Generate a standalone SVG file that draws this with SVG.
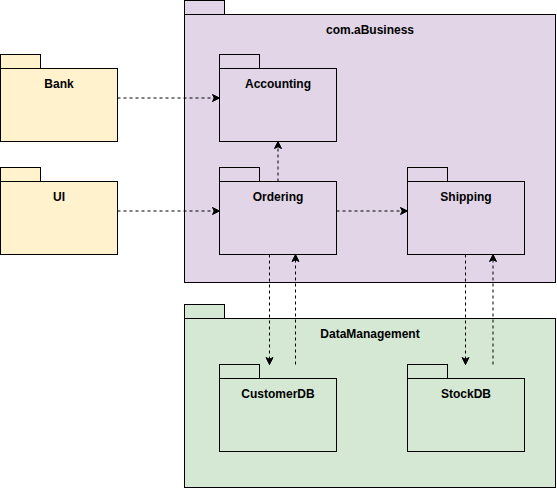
<svg xmlns="http://www.w3.org/2000/svg" width="557" height="488" viewBox="0 0 557 488">
<style>
  .pkg { stroke: #000; stroke-width: 1; }
  .yellow { fill: #fff2cc; }
  .purple { fill: #e1d5e7; }
  .green { fill: #d5e8d4; }
  .lbl { font-family: "Liberation Sans", Arial, Helvetica, sans-serif; font-size: 12px; font-weight: bold; fill: #000; text-anchor: middle; }
  .dep { fill: none; stroke: #000; stroke-width: 1; stroke-dasharray: 3 3; marker-end: url(#arrow); }
</style>
<defs>
  <marker id="arrow" markerUnits="userSpaceOnUse" markerWidth="8" markerHeight="8" refX="7" refY="4" orient="auto" overflow="visible">
    <path d="M0,0.5 L7,4 L0,7.5 L1.75,4 Z" fill="#000" stroke="#000" stroke-width="1" stroke-linejoin="miter"/>
  </marker>
</defs>
<rect width="557" height="488" fill="#fff"/>

<g id="com.aBusiness">
  <rect class="pkg purple" x="184.5" y="0.5" width="40" height="14"/>
  <rect class="pkg purple" x="184.5" y="14.5" width="371" height="268"/>
  <text class="lbl" x="370" y="34">com.aBusiness</text>
</g>
<g id="DataManagement">
  <rect class="pkg green" x="184.5" y="304.5" width="40" height="14"/>
  <rect class="pkg green" x="184.5" y="318.5" width="371" height="169"/>
  <text class="lbl" x="370" y="338">DataManagement</text>
</g>
<g id="Bank">
  <rect class="pkg yellow" x="0.5" y="54.5" width="40" height="14"/>
  <rect class="pkg yellow" x="0.5" y="68.5" width="117" height="73"/>
  <text class="lbl" x="59" y="88">Bank</text>
</g>
<g id="UI">
  <rect class="pkg yellow" x="0.5" y="167.5" width="40" height="14"/>
  <rect class="pkg yellow" x="0.5" y="181.5" width="117" height="73"/>
  <text class="lbl" x="59" y="201">UI</text>
</g>
<g id="Accounting">
  <rect class="pkg purple" x="219.5" y="54.5" width="40" height="14"/>
  <rect class="pkg purple" x="219.5" y="68.5" width="117" height="73"/>
  <text class="lbl" x="278" y="88">Accounting</text>
</g>
<g id="Ordering">
  <rect class="pkg purple" x="219.5" y="167.5" width="40" height="14"/>
  <rect class="pkg purple" x="219.5" y="181.5" width="117" height="73"/>
  <text class="lbl" x="278" y="201">Ordering</text>
</g>
<g id="Shipping">
  <rect class="pkg purple" x="407.5" y="167.5" width="40" height="14"/>
  <rect class="pkg purple" x="407.5" y="181.5" width="117" height="73"/>
  <text class="lbl" x="466" y="201">Shipping</text>
</g>
<g id="CustomerDB">
  <rect class="pkg green" x="219.5" y="364.5" width="40" height="14"/>
  <rect class="pkg green" x="219.5" y="378.5" width="117" height="73"/>
  <text class="lbl" x="278" y="398">CustomerDB</text>
</g>
<g id="StockDB">
  <rect class="pkg green" x="407.5" y="364.5" width="40" height="14"/>
  <rect class="pkg green" x="407.5" y="378.5" width="117" height="73"/>
  <text class="lbl" x="466" y="398">StockDB</text>
</g>

<g id="connectors">
  <path class="dep" d="M117.5,98 L219.5,98"/>
  <path class="dep" d="M117.5,211 L219.5,211"/>
  <path class="dep" d="M278,181.5 L278,141.5"/>
  <path class="dep" d="M336.5,211 L407.5,211"/>
  <path class="dep" d="M269.5,254.5 L269.5,364.5"/>
  <path class="dep" d="M295.5,364.5 L295.5,254.5"/>
  <path class="dep" d="M465.5,254.5 L465.5,364.5"/>
  <path class="dep" d="M493,364.5 L493,254.5"/>
</g>
</svg>
